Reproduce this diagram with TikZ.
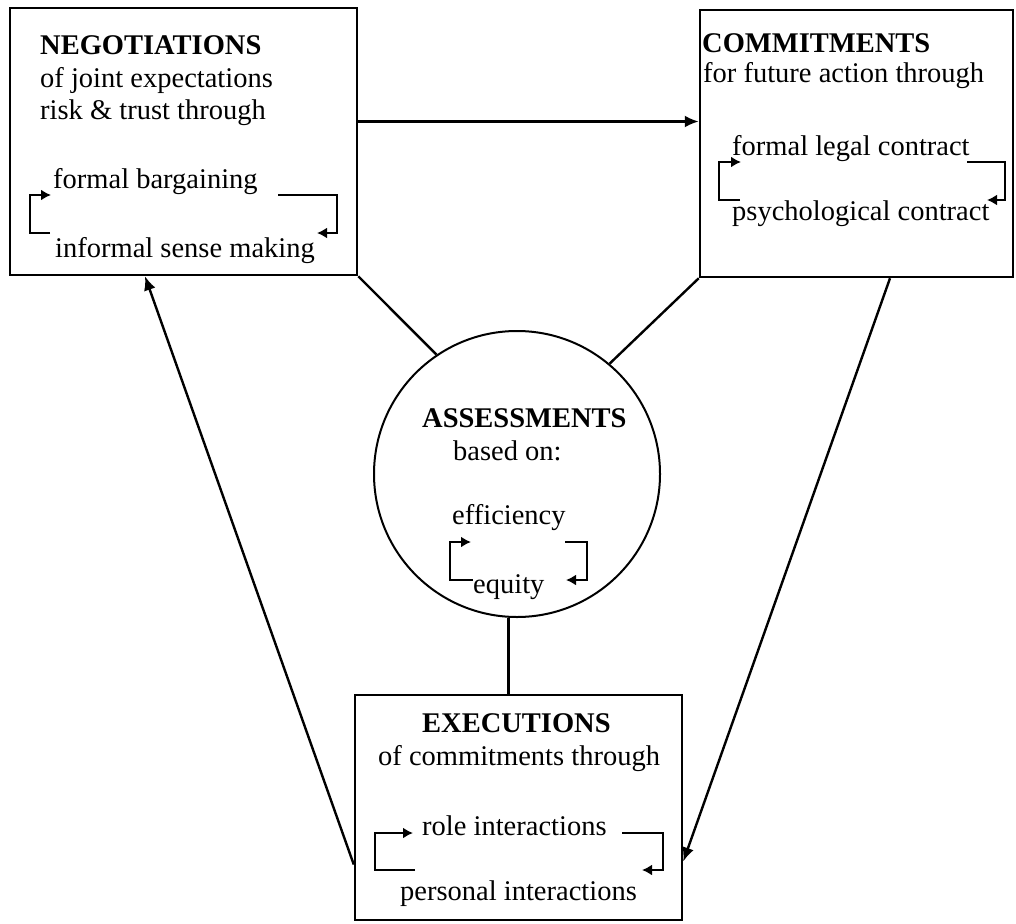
\documentclass[tikz,border=0pt]{standalone}
\usepackage{fontspec}
\setmainfont{Liberation Serif}
\usetikzlibrary{calc,arrows.meta}

\begin{document}
\begin{tikzpicture}[x=1pt,y=-1pt,
     font=\fontsize{28.5}{32}\selectfont,
     block/.style = {draw, rectangle, line width=2.5pt, inner sep=0pt},
     disc/.style = {draw, circle, line width=2pt, inner sep=0pt, minimum size=286pt},
     lbl/.style = {anchor=base west, inner sep=0pt},
     head/.style = {lbl, font=\fontsize{28.5}{32}\selectfont\bfseries},
     arrow/.style = {draw, -{Latex[length=14pt,width=12pt]}, line width=2.4pt},
     link/.style = {draw, line width=2.4pt},
     cycle/.style = {draw, -{Latex[length=10pt,width=11pt]}, line width=2.2pt}
    ]
    \useasboundingbox (0,0) rectangle (1016,923);

    % the four stages
    \node [block, minimum width=347pt, minimum height=267pt] (neg) at (183.5,141.5) {};
    \node [block, minimum width=313pt, minimum height=267pt] (com) at (856.5,143.5) {};
    \node [disc] (ass) at (517,474) {};
    \node [block, minimum width=327pt, minimum height=225pt] (exe) at (518.5,807.5) {};

    % texts
    \node [head] (negh) at (40,55) {NEGOTIATIONS};
    \node [lbl] (neg1) at (40,88) {of joint expectations};
    \node [lbl] (neg2) at (40,120) {risk \& trust through};
    \node [lbl] (negf) at (53,188) {formal bargaining};
    \node [lbl] (negi) at (55,257) {informal sense making};

    \node [head] (comh) at (702,53) {COMMITMENTS};
    \node [lbl] (com1) at (703,83) {for future action through};
    \node [lbl] (comf) at (732,155) {formal legal contract};
    \node [lbl] (comp) at (732,220) {psychological contract};

    \node [head] (assh) at (422,427) {ASSESSMENTS};
    \node [lbl] (ass1) at (453,460) {based on:};
    \node [lbl] (asse) at (452,524) {efficiency};
    \node [lbl] (assq) at (473,593) {equity};

    \node [head] (exeh) at (422,732) {EXECUTIONS};
    \node [lbl] (exe1) at (378,765) {of commitments through};
    \node [lbl] (exer) at (422,835) {role interactions};
    \node [lbl] (exep) at (400,900) {personal interactions};

    % inner cycles
    \draw [cycle] (50,233) -- (30,233) |- (51,195);
    \draw [cycle] (278,195) -| (337,233) -- (317,233);
    \draw [cycle] (740,200) -- (719,200) |- (741,162);
    \draw [cycle] (967,162) -| (1005,200) -- (987,200);
    \draw [cycle] (473,580) -- (450,580) |- (471,542);
    \draw [cycle] (565,542) -| (587,580) -- (566,580);
    \draw [cycle] (415,870) -- (375,870) |- (413,833);
    \draw [cycle] (622,833) -| (663,870) -- (642,870);

    % connections
    \path [arrow] ([yshift=20pt]neg.east) -- ([yshift=20pt]neg.east -| com.west);
    \path [link] (neg.south east) -- (ass.124);
    \path [link] (com.south west) -- (ass.50);
    \path [link] ([xshift=-10pt]exe.north) -- ([xshift=-10pt]exe.north |- ass.south);
    \path [arrow] ([xshift=33.5pt]com.south) -- ([yshift=-54pt]exe.east);
    \path [arrow] ([yshift=-57pt]exe.west) -- ([xshift=-38.5pt]neg.south);
\end{tikzpicture}
\end{document}
